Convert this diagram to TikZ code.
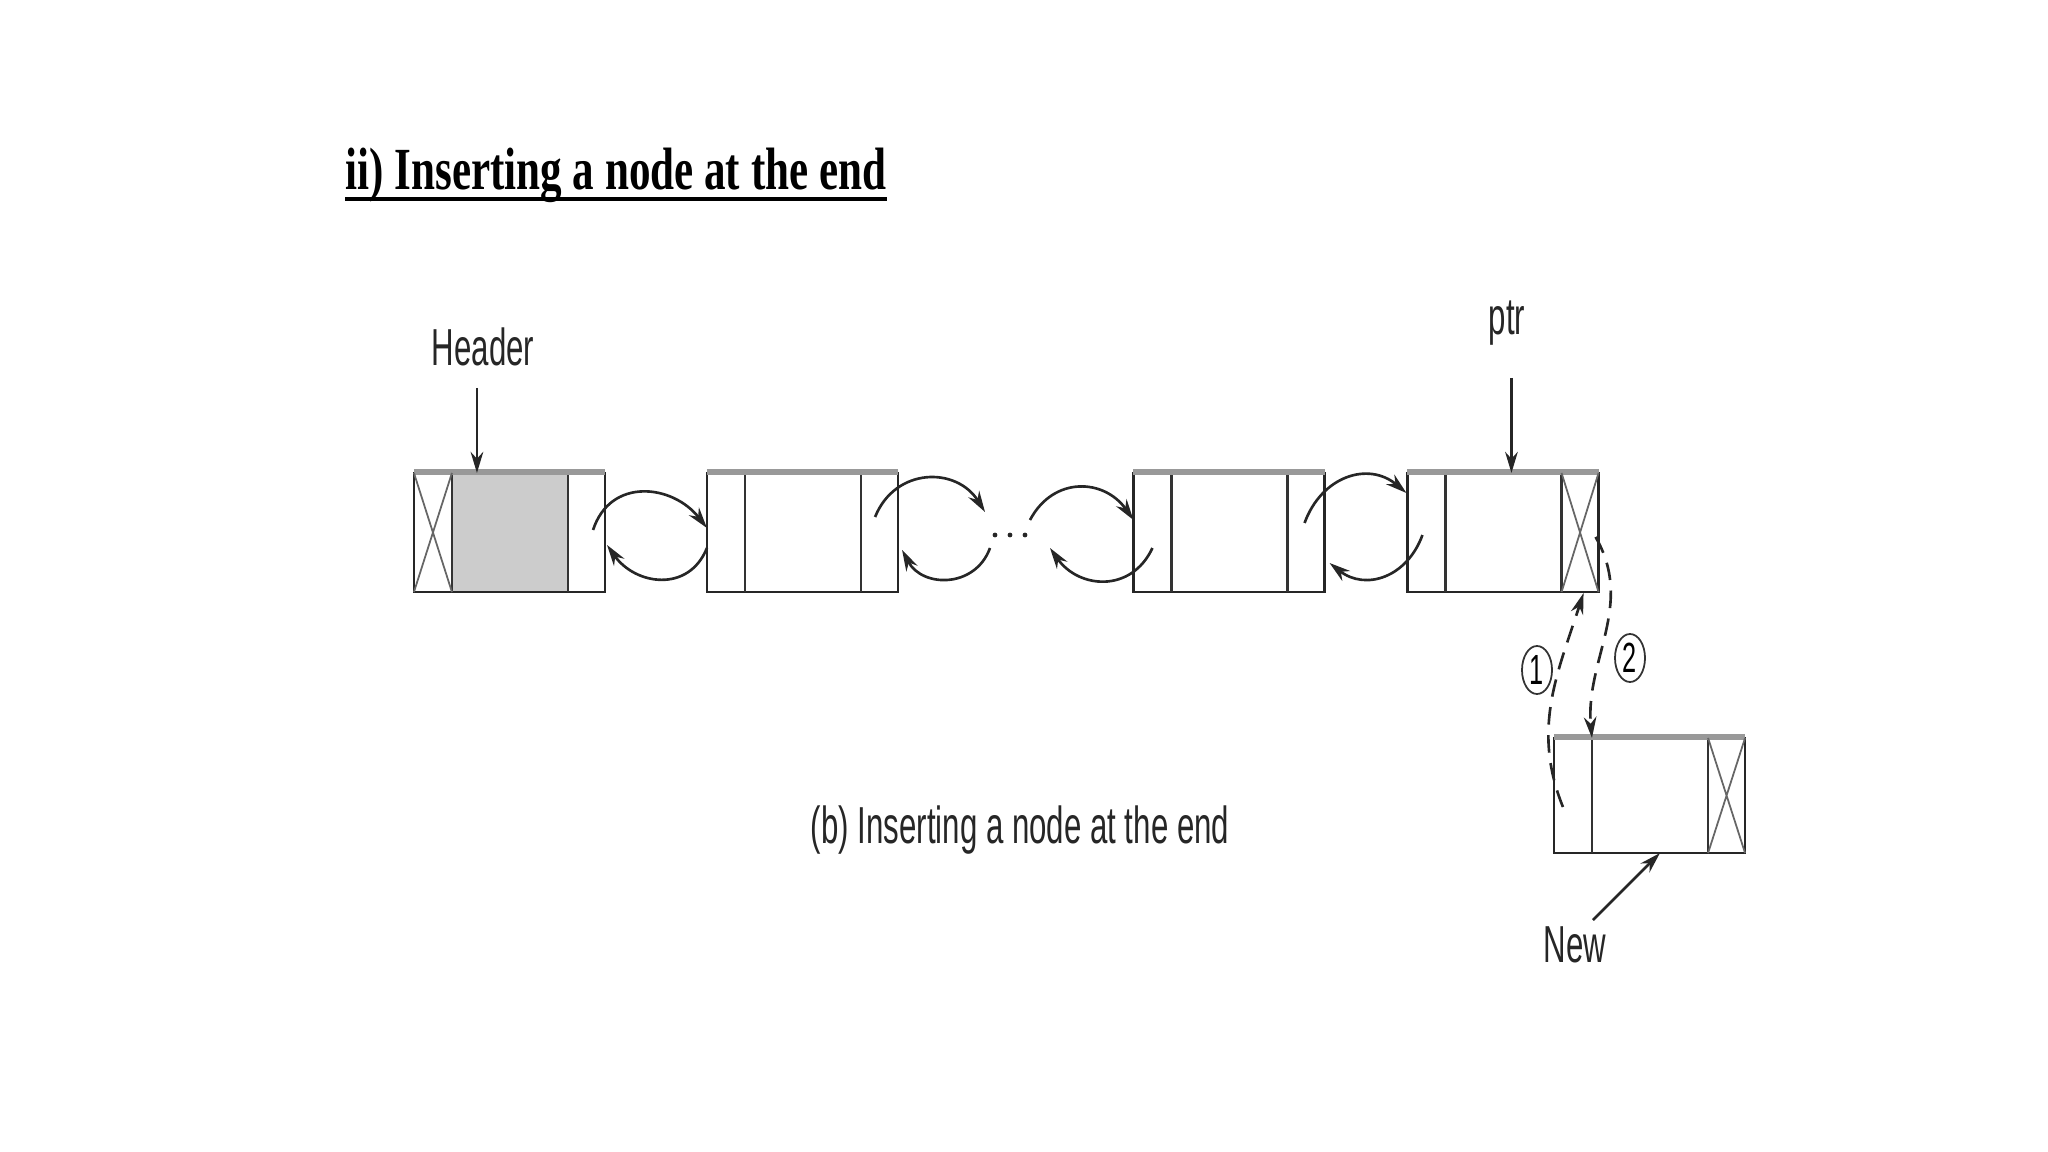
\documentclass[tikz,border=0pt]{standalone}
\usepackage{fontspec}
\usepackage{graphicx}
\setmainfont{Liberation Serif}
\newfontfamily\hv{Liberation Sans}
\usetikzlibrary{arrows.meta,calc,shapes.geometric}
\newcommand{\cnd}[1]{\scalebox{0.6}[1]{#1}}
\begin{document}
\begin{tikzpicture}[x=0.01cm,y=0.01cm,
  lnode/.style={draw=black!85, line width=0.8pt, minimum width=1.91cm, minimum height=1.19cm, inner sep=0pt, outer sep=0pt},
  cellline/.style={draw=black!80, line width=0.8pt},
  topband/.style={draw=black!40, line width=1.8pt},
  xmark/.style={draw=black!60, line width=0.5pt},
  link/.style={draw=black!85, line width=0.75pt, -{Stealth[length=6pt,width=3.6pt]}},
  dlink/.style={link, dash pattern=on 5pt off 3pt},
  lbl/.style={font=\hv\fontsize{14.8}{16}\selectfont, text=black!85, inner sep=0pt},
  circ/.style={ellipse, draw=black!80, line width=0.5pt, minimum width=0.3cm, minimum height=0.48cm, inner sep=0pt, font=\hv\fontsize{12}{12}\selectfont}]
\useasboundingbox (0,0) rectangle (2048,-1152);

% title
\node[anchor=base west, inner sep=0pt, font=\bfseries\fontsize{17}{20}\selectfont] (title) at (345,-190) {\scalebox{0.72}[1]{ii) Inserting a node at the end}};
\draw[line width=1.2pt] ($(title.base west)+(0,-9)$) -- ($(title.base east)+(0,-9)$);

% list nodes
\node[lnode] (n1) at (509.5,-532.5) {};
\node[lnode] (n2) at (802.5,-532.5) {};
\node[lnode] (n3) at (1229,-532.5) {};
\node[lnode] (n4) at (1503,-532.5) {};
\node[lnode, minimum height=1.15cm] (nn) at (1649.5,-795.5) {};

% grey data cell of header
\fill[black!20] ($(n1.north west)+(38,-1)$) rectangle ($(n1.south east)+(-37,1)$);

% cell dividers
\foreach \n in {n1,n2,n3,n4,nn}{
  \draw[cellline] ($(\n.north west)+(38,0)$) -- ($(\n.south west)+(38,0)$);
  \draw[cellline] ($(\n.north east)+(-37,0)$) -- ($(\n.south east)+(-37,0)$);
  \draw[topband] ($(\n.north west)+(0,1)$) -- ($(\n.north east)+(0,1)$);
}

% null marks
\draw[xmark] (n1.north west) -- ($(n1.south west)+(38,0)$) (n1.south west) -- ($(n1.north west)+(38,0)$);
\draw[xmark] ($(n4.north east)+(-37,0)$) -- (n4.south east) ($(n4.south east)+(-37,0)$) -- (n4.north east);
\draw[xmark] ($(nn.north east)+(-37,0)$) -- (nn.south east) ($(nn.south east)+(-37,0)$) -- (nn.north east);

% dots
\coordinate (dots) at (1010,-535);
\foreach \dx in {-15,0,15}{\fill[black!85] ($(dots)+(\dx,0)$) circle (2.4);}

% links
\draw[link] ($(n1.east)+(-12,2.5)$) to[out=72,in=128,looseness=1.25] ($(n2.west)+(0,4.5)$);
\draw[link] ($(n2.west)+(0,-15.5)$) to[out=-112,in=-55,looseness=1.25] ($(n1.east)+(2,-12.5)$);
\draw[link] ($(n2.east)+(-23,15.5)$) to[out=68,in=122,looseness=1.25] ($(dots)+(-25,23)$);
\draw[link] ($(dots)+(-20,-13)$) to[out=-110,in=-62,looseness=1.25] ($(n2.east)+(4,-17.5)$);
\draw[link] ($(dots)+(20,15)$) to[out=62,in=125,looseness=1.25] ($(n3.west)+(0,12.5)$);
\draw[link] ($(n3.west)+(19,-15.5)$) to[out=-115,in=-55,looseness=1.25] ($(dots)+(40,-13)$);
\draw[link] ($(n3.east)+(-20,9.5)$) to[out=70,in=140,looseness=1.2] ($(n4.west)+(-1,39.5)$);
\draw[link] ($(n4.west)+(15,-2.5)$) to[out=-110,in=-38,looseness=1.2] ($(n3.east)+(5,-30.5)$);

% labels
\node[lbl] (hdr) at (483,-347) {\cnd{Header}};
\coordinate (hp) at ($(n1.north west)+(63,0)$);
\draw[link] ($(hp)+(0,85)$) -- (hp);
\node[lbl] (ptr) at (1507,-323) {\cnd{ptr}};
\coordinate (pp) at ($(n4.north west)+(104,0)$);
\draw[link] ($(pp)+(0,95)$) -- (pp);
\node[lbl] (new) at (1575,-945) {\cnd{New}};
\draw[link] ($(nn.south west)+(39,-67)$) -- ($(nn.south west)+(106,0)$);

% insertion steps
\draw[dlink] ($(nn.west)+(9,-11.5)$) to[out=112,in=-108] ($(n4.south east)+(-15,-1)$);
\draw[dlink] ($(n4.east)+(-3,-4.5)$) to[out=-60,in=95] ($(nn.north west)+(38,0)$);
\node[circ] (c1) at (1537,-670) {\cnd{1}};
\node[circ] (c2) at (1630,-658) {\cnd{2}};

% caption
\node[lbl] (cap) at (1020,-830) {\cnd{(b) Inserting a node at the end}};
\end{tikzpicture}
\end{document}
